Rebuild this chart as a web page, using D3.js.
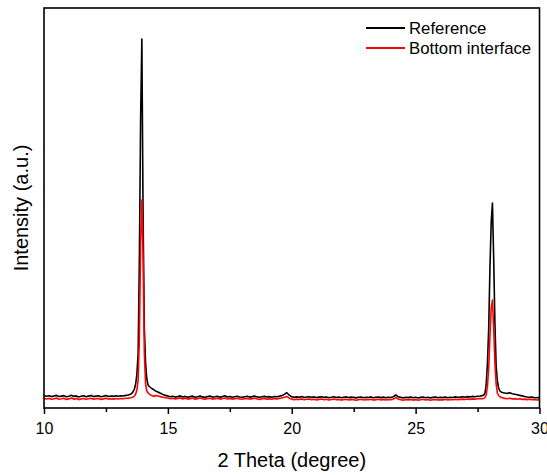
<!DOCTYPE html>
<html>
<head>
<meta charset="utf-8">
<script src="https://cdn.jsdelivr.net/npm/d3@7"></script>
<style>
  body { margin: 0; background: #fff; }
  svg { display: block; font-family: "Liberation Sans", Arial, sans-serif; }
</style>
</head>
<body>
<svg id="chart" width="547" height="475"></svg>
<script>
// 2 theta sampling (degree)
var twoTheta = [
  10.0, 10.1, 10.2, 10.3, 10.4, 10.5, 10.6, 10.7, 10.8, 10.9,
  11.0, 11.1, 11.2, 11.3, 11.4, 11.5, 11.6, 11.7, 11.8, 11.9,
  12.0, 12.1, 12.2, 12.3, 12.4, 12.5, 12.6, 12.7, 12.8, 12.9,
  13.0, 13.1, 13.2, 13.3, 13.4, 13.5,
  13.55, 13.6, 13.65, 13.7, 13.75, 13.8, 13.85, 13.9, 13.95, 14.0,
  14.05, 14.1, 14.15, 14.2, 14.25, 14.3, 14.35, 14.4, 14.45,
  14.5, 14.6, 14.7, 14.8, 14.9,
  15.0, 15.1, 15.2, 15.3, 15.4, 15.5, 15.6, 15.7, 15.8, 15.9,
  16.0, 16.1, 16.2, 16.3, 16.4, 16.5, 16.6, 16.7, 16.8, 16.9,
  17.0, 17.1, 17.2, 17.3, 17.4, 17.5, 17.6, 17.7, 17.8, 17.9,
  18.0, 18.1, 18.2, 18.3, 18.4, 18.5, 18.6, 18.7, 18.8, 18.9,
  19.0, 19.1, 19.2, 19.3, 19.4, 19.5, 19.6, 19.7, 19.8, 19.9,
  20.0, 20.1, 20.2, 20.3, 20.4, 20.5, 20.6, 20.7, 20.8, 20.9,
  21.0, 21.1, 21.2, 21.3, 21.4, 21.5, 21.6, 21.7, 21.8, 21.9,
  22.0, 22.1, 22.2, 22.3, 22.4, 22.5, 22.6, 22.7, 22.8, 22.9,
  23.0, 23.1, 23.2, 23.3, 23.4, 23.5, 23.6, 23.7, 23.8, 23.9,
  24.0, 24.1, 24.2, 24.3, 24.4, 24.5, 24.6, 24.7, 24.8, 24.9,
  25.0, 25.1, 25.2, 25.3, 25.4, 25.5, 25.6, 25.7, 25.8, 25.9,
  26.0, 26.1, 26.2, 26.3, 26.4, 26.5, 26.6, 26.7, 26.8, 26.9,
  27.0, 27.1, 27.2, 27.3, 27.4, 27.5, 27.6, 27.7,
  27.75, 27.8, 27.85, 27.9, 27.95, 28.0, 28.05, 28.1, 28.15, 28.2,
  28.25, 28.3, 28.35, 28.4, 28.45,
  28.5, 28.6, 28.7, 28.8, 28.9, 29.0, 29.1, 29.2, 29.3, 29.4,
  29.5, 29.6, 29.7, 29.8, 29.9, 30.0
];

// Reference (black)
var reference = [
  12.5, 11.8, 12.3, 11.4, 12.0, 12.6, 11.5, 11.9, 12.4, 11.2,
  11.8, 12.7, 11.6, 12.1, 11.0, 11.7, 12.2, 11.3, 11.9, 12.5,
  11.4, 11.9, 12.3, 11.2, 11.8, 12.4, 11.5, 12.0, 11.6, 12.2,
  11.7, 12.3, 12.0, 12.6, 13.0, 13.8,
  14.8, 16.5, 19.0, 24.0, 34.0, 55.0, 150, 290, 369, 190,
  80, 45, 29, 23, 21.5, 20.5, 19.5, 18.8, 18.0,
  17.0, 16.0, 14.8, 13.6, 12.6,
  12.0, 11.3, 11.8, 10.9, 11.5, 12.1, 11.0, 11.6, 10.8, 11.4,
  11.9, 10.7, 11.3, 12.0, 11.1, 10.6, 11.5, 11.9, 10.9, 11.2,
  11.7, 10.8, 11.4, 12.2, 11.0, 11.5, 10.7, 11.3, 11.8, 11.0,
  10.6, 11.2, 11.7, 10.9, 11.4, 12.0, 11.1, 10.7, 11.3, 11.6,
  11.0, 11.4, 10.8, 11.5, 11.2, 11.8, 12.4, 13.6, 15.3, 12.8,
  11.2, 10.6, 11.1, 10.8, 11.4, 10.5, 11.0, 11.3, 10.7, 11.1,
  10.4, 10.9, 11.3, 10.6, 11.0, 10.3, 10.8, 11.2, 10.5, 10.9,
  10.2, 10.8, 11.1, 10.4, 10.9, 10.6, 10.1, 10.7, 11.0, 10.3,
  10.8, 10.5, 11.1, 10.2, 10.7, 11.0, 10.4, 10.9, 10.3, 10.8,
  10.5, 11.3, 13.0, 11.2, 10.6, 10.1, 10.8, 10.4, 10.9, 10.2,
  10.7, 10.0, 10.6, 11.0, 10.3, 10.8, 10.1, 10.6, 10.9, 10.2,
  10.7, 10.4, 11.0, 10.3, 10.8, 10.5, 11.1, 10.6, 10.9, 11.3,
  10.8, 11.4, 11.0, 11.6, 11.2, 11.7, 12.0, 12.4,
  13.0, 15.0, 24.0, 45.0, 80.0, 140, 185, 205, 150, 85.0,
  42.0, 27.0, 20.0, 17.0, 16.0,
  15.5, 15.0, 14.6, 15.2, 14.2, 13.8, 13.2, 12.6, 12.1, 11.5,
  11.0, 10.6, 10.9, 10.3, 10.5, 10.0
];

// Bottom interface (red)
var bottomInterface = [
  9.6, 9.0, 9.5, 8.7, 9.3, 9.9, 8.8, 9.2, 9.7, 8.6,
  9.1, 9.9, 8.9, 9.4, 8.4, 9.0, 9.5, 8.7, 9.2, 9.8,
  8.8, 9.2, 9.6, 8.6, 9.1, 9.7, 8.9, 9.3, 8.9, 9.5,
  9.0, 9.5, 9.3, 9.8, 9.9, 10.2,
  10.5, 11.0, 12.0, 14.0, 18.0, 28.0, 70.0, 165, 208, 150,
  55.0, 24.0, 17.0, 15.0, 14.0, 13.0, 12.4, 12.0, 11.6,
  12.5, 12.0, 11.4, 10.8, 10.4,
  10.0, 9.3, 9.8, 9.0, 9.6, 10.1, 9.1, 9.7, 8.9, 9.4,
  9.9, 8.8, 9.4, 10.0, 9.2, 8.7, 9.5, 9.8, 8.9, 9.3,
  9.7, 8.9, 9.4, 10.1, 9.0, 9.5, 8.7, 9.3, 9.8, 9.0,
  8.7, 9.2, 9.6, 8.9, 9.4, 9.9, 9.0, 8.6, 9.2, 9.5,
  8.9, 9.3, 8.7, 9.4, 9.1, 9.6, 10.0, 10.8, 11.6, 9.8,
  8.9, 8.3, 8.8, 8.5, 9.1, 8.2, 8.7, 9.0, 8.4, 8.8,
  8.1, 8.6, 9.0, 8.3, 8.7, 8.0, 8.5, 8.9, 8.2, 8.6,
  7.9, 8.5, 8.8, 8.1, 8.6, 8.3, 7.8, 8.4, 8.7, 8.0,
  8.5, 8.2, 8.8, 7.9, 8.4, 8.7, 8.1, 8.6, 8.0, 8.5,
  8.2, 9.0, 10.4, 8.9, 8.3, 7.8, 8.5, 8.1, 8.6, 7.9,
  8.4, 7.7, 8.3, 8.7, 8.0, 8.5, 7.8, 8.3, 8.6, 7.9,
  8.4, 8.1, 8.7, 8.0, 8.5, 8.2, 8.8, 8.3, 8.6, 8.9,
  8.5, 9.0, 8.6, 9.1, 8.8, 9.2, 9.4, 9.3,
  9.5, 10.5, 13.0, 22.0, 40.0, 72.0, 100, 108, 80.0, 45.0,
  24.0, 15.0, 12.5, 11.3, 10.5,
  10.2, 9.6, 9.3, 9.8, 9.0, 9.4, 8.8, 9.2, 8.6, 8.9,
  8.4, 8.7, 8.2, 8.5, 8.0, 8.3
];

var xTicks = [10, 15, 20, 25, 30];
var xMinorTicks = [12.5, 17.5, 22.5, 27.5];

var seriesNames = ["Reference", "Bottom interface"];
var seriesColors = ["#000000", "#ff0000"];

var margin = {top: 8, right: 7.5, bottom: 67, left: 44};
var width = 547 - margin.left - margin.right,
    height = 475 - margin.top - margin.bottom;

var svg = d3.select("#chart");
var g = svg.append("g").attr("transform", "translate(" + margin.left + "," + margin.top + ")");

var x = d3.scaleLinear().domain([10, 30]).range([0, width]);
var y = d3.scaleLinear().domain([0, 400]).range([height, 0]);

var line = d3.line()
    .x(function (d) { return x(d[0]) })
    .y(function (d) { return y(d[1]) });

var series = [reference, bottomInterface].map(function (vals) {
    return twoTheta.map(function (t, i) { return [t, vals[i]] });
});

g.selectAll("path.series")
    .data(series)
    .join("path")
    .attr("class", "series")
    .attr("d", line)
    .attr("fill", "none")
    .attr("stroke", function (d, i) { return seriesColors[i] })
    .attr("stroke-width", 1.6)
    .attr("stroke-linejoin", "round");

// minor ticks
g.append("g")
    .attr("transform", "translate(0," + height + ")")
    .call(d3.axisBottom(x).tickValues(xMinorTicks).tickSize(4).tickFormat(""))
    .call(function (a) { a.select(".domain").remove() })
    .selectAll("line").attr("stroke-width", 1.5);

// major ticks
var xAxis = g.append("g")
    .attr("transform", "translate(0," + height + ")")
    .call(d3.axisBottom(x).tickValues(xTicks).tickSize(6).tickPadding(9).tickFormat(d3.format("d")));
xAxis.select(".domain").remove();
xAxis.selectAll("line").attr("stroke-width", 1.5);
xAxis.selectAll("text")
    .attr("font-size", 16)
    .attr("font-family", "Liberation Sans, Arial, sans-serif")
    .attr("fill", "#000");

// frame
g.append("rect")
    .attr("width", width)
    .attr("height", height)
    .attr("fill", "none")
    .attr("stroke", "#000")
    .attr("stroke-width", 1.6);

// axis titles
svg.append("text")
    .attr("x", margin.left + width / 2)
    .attr("y", 467)
    .attr("text-anchor", "middle")
    .attr("font-size", 20)
    .text("2 Theta (degree)");

svg.append("text")
    .attr("transform", "translate(28," + (margin.top + height / 2) + ") rotate(-90)")
    .attr("text-anchor", "middle")
    .attr("font-size", 20)
    .text("Intensity (a.u.)");

// legend
var legend = svg.append("g").attr("transform", "translate(366,28)");
var item = legend.selectAll("g")
    .data(seriesNames)
    .join("g")
    .attr("transform", function (d, i) { return "translate(0," + (i * 20) + ")" });
item.append("line")
    .attr("x1", 0).attr("x2", 39)
    .attr("stroke", function (d, i) { return seriesColors[i] })
    .attr("stroke-width", 1.8);
item.append("text")
    .attr("x", 43)
    .attr("dy", "0.35em")
    .attr("font-size", 16.8)
    .text(function (d) { return d });
</script>
</body>
</html>
